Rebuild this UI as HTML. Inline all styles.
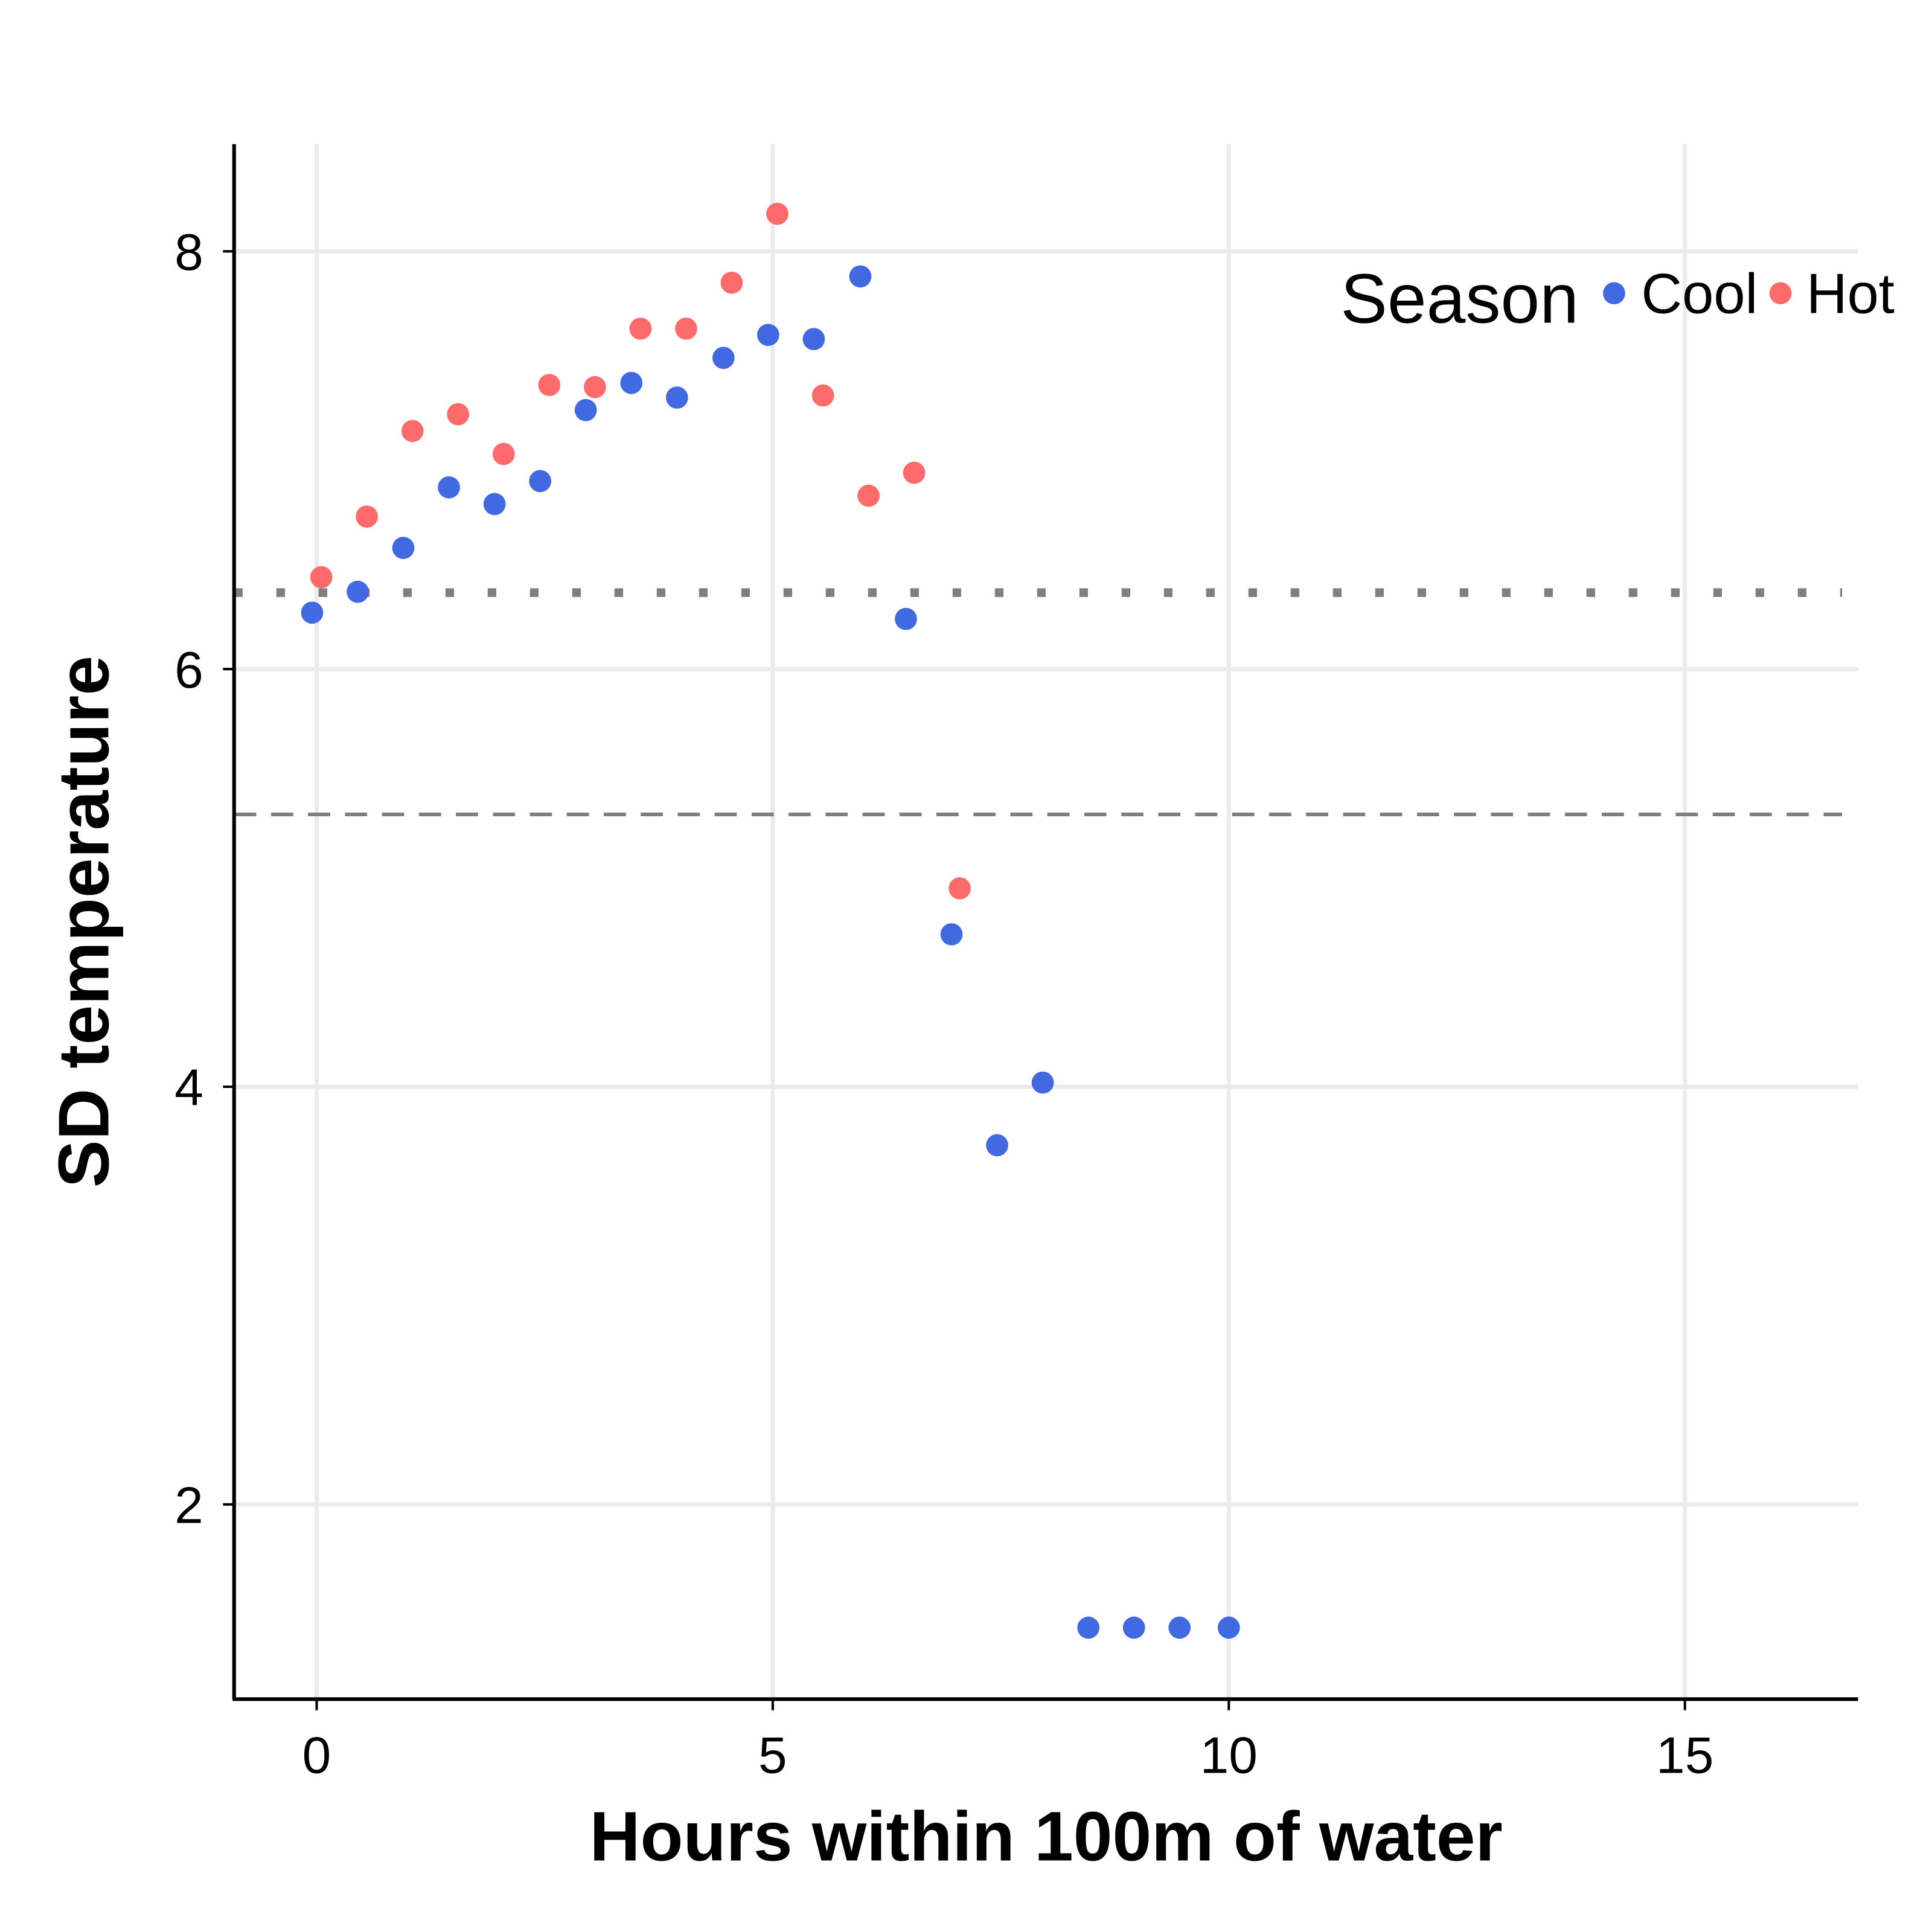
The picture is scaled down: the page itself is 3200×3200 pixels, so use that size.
<!DOCTYPE html>
<html><head><meta charset="utf-8"><style>
html,body{margin:0;padding:0;background:#fff;}
svg{display:block;font-family:"Liberation Sans",Arial,sans-serif;}
</style></head><body>
<svg id="chart" width="3200" height="3200" viewBox="0 0 1568 1568" xmlns="http://www.w3.org/2000/svg">
<g id="grid"></g>
<g id="refs"></g>
<g id="pts"></g>
<g id="axes"></g>
<text x="849" y="1510" font-size="57" font-weight="bold" text-anchor="middle">Hours within 100m of water</text>
<text transform="translate(88,748) rotate(-90)" font-size="58" font-weight="bold" text-anchor="middle">SD temperature</text>
<g>
<text x="1088" y="262" font-size="57">Season</text>
<circle cx="1310" cy="238" r="9" fill="#4169e1"/>
<text x="1332" y="254" font-size="46">Cool</text>
<circle cx="1445" cy="238" r="9" fill="#ff6b6b"/>
<text x="1466" y="254" font-size="46">Hot</text>
</g>
</svg>
<script>
const coolX=[-0.05,0.45,0.95,1.45,1.95,2.45,2.95,3.45,3.95,4.46,4.95,5.45,5.96,6.46,6.96,7.46,7.96,8.46,8.96,9.46,10.0];
const coolY=[6.27,6.37,6.58,6.87,6.79,6.90,7.24,7.37,7.30,7.49,7.60,7.58,7.88,6.24,4.73,3.72,4.02,1.41,1.41,1.41,1.41];
const hotX=[0.05,0.55,1.05,1.55,2.05,2.55,3.05,3.55,4.05,4.55,5.05,5.55,6.05,6.55,7.05];
const hotY=[6.44,6.73,7.14,7.22,7.03,7.36,7.35,7.63,7.63,7.85,8.18,7.31,6.83,6.94,4.95];
const xTicks=[0,5,10,15];
const yTicks=[2,4,6,8];
const refDotted=6.366;
const refDashed=5.304;
const NS="http://www.w3.org/2000/svg";
const sx=v=>257+v*74.03;
const sy=v=>204+(8-v)*169.5;
const L=190,R=1508,T=117,B=1379;
function mk(tag,attrs,parent){const e=document.createElementNS(NS,tag);for(const k in attrs)e.setAttribute(k,attrs[k]);parent.appendChild(e);return e;}
const grid=document.getElementById('grid'),axes=document.getElementById('axes'),refs=document.getElementById('refs'),pts=document.getElementById('pts');
xTicks.forEach(t=>{
 const g=mk('line',{x1:sx(t),x2:sx(t),y1:T,y2:B,stroke:'#ebebeb','stroke-width':3.5},grid);
 
 
 const tk=mk('line',{x1:sx(t),x2:sx(t),y1:B,y2:B+9,stroke:'#000','stroke-width':2},axes);
 
 
 const tx=mk('text',{x:sx(t),y:1439,'font-size':42,'text-anchor':'middle'},axes);
 tx.textContent=t;
 
 
});
yTicks.forEach(t=>{
 const g=mk('line',{x1:L,x2:R,y1:sy(t),y2:sy(t),stroke:'#ebebeb','stroke-width':3.5},grid);
 
 
 const tk=mk('line',{x1:L-9,x2:L,y1:sy(t),y2:sy(t),stroke:'#000','stroke-width':2},axes);
 
 
 const tx=mk('text',{x:165,y:sy(t)+15,'font-size':42,'text-anchor':'end'},axes);
 tx.textContent=t;
 
 
});
const d1=mk('line',{x1:L,x2:1495,y1:sy(refDotted),y2:sy(refDotted),stroke:'#7f7f7f','stroke-width':7,'stroke-dasharray':'7 27.3'},refs);


const d2=mk('line',{x1:L,x2:1495,y1:sy(refDashed),y2:sy(refDashed),stroke:'#7f7f7f','stroke-width':3,'stroke-dasharray':'18 12'},refs);


const ax1=mk('line',{x1:L,x2:L,y1:T,y2:B+1,stroke:'#000','stroke-width':3},axes);


const ax2=mk('line',{x1:L-1,x2:R,y1:B,y2:B,stroke:'#000','stroke-width':3},axes);


coolX.forEach((x,i)=>{
 const c=mk('circle',{cx:sx(x),cy:sy(coolY[i]),r:9,fill:'#4169e1'},pts);
 
 
});
hotX.forEach((x,i)=>{
 const c=mk('circle',{cx:sx(x),cy:sy(hotY[i]),r:9,fill:'#ff6b6b'},pts);
 
 
});
</script>
</body></html>
